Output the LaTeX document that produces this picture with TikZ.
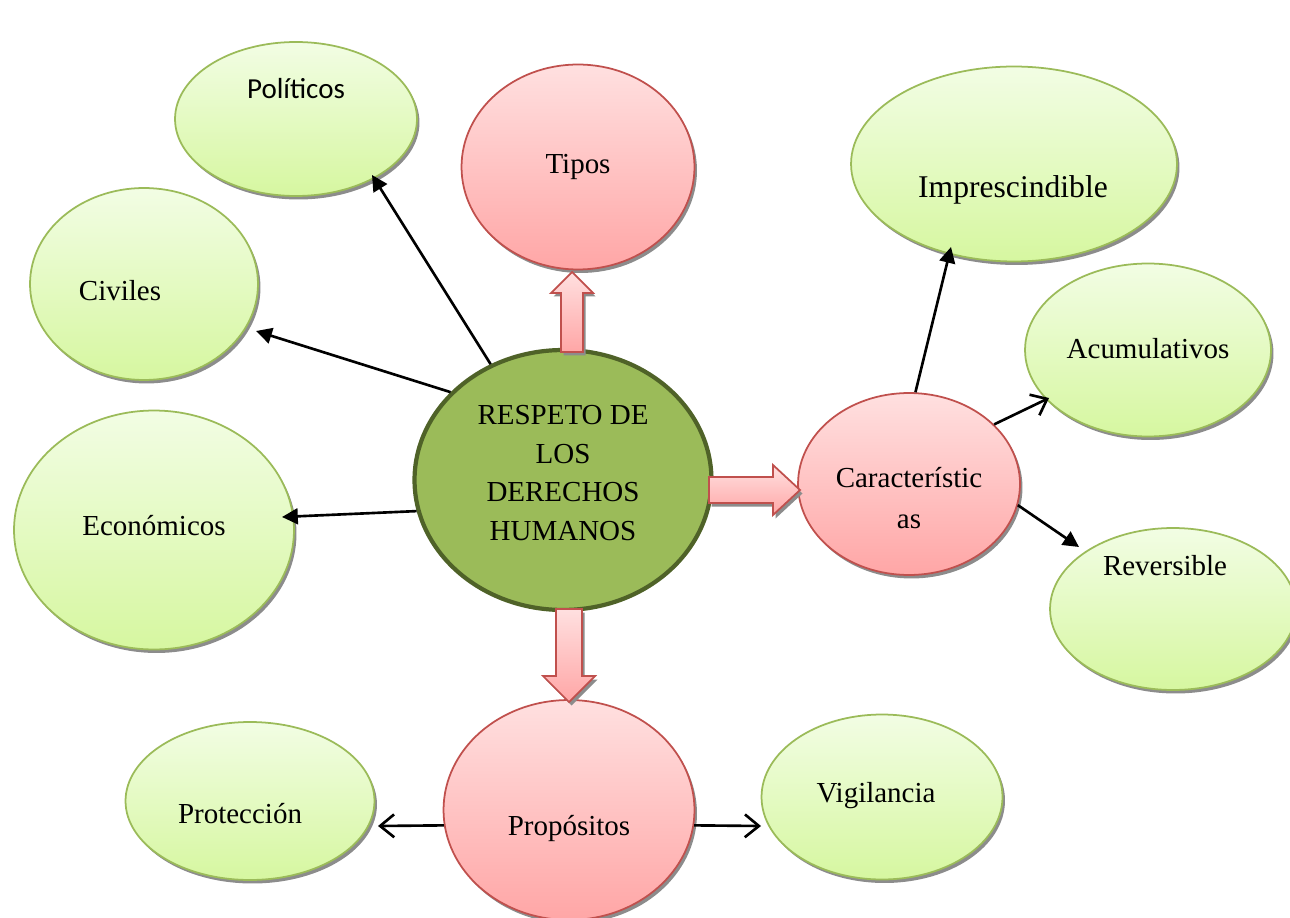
\documentclass[tikz,border=0pt]{standalone}
\usepackage{fontspec}
\setmainfont{Liberation Serif}
\newfontfamily\calib{Carlito}
\usetikzlibrary{shapes.geometric,shadows,arrows.meta,calc}
\definecolor{pinkT}{RGB}{255,224,224}
\definecolor{pinkB}{RGB}{255,166,166}
\definecolor{pinkD}{RGB}{192,80,77}
\definecolor{grnT}{RGB}{242,253,228}
\definecolor{grnB}{RGB}{214,247,160}
\definecolor{grnD}{RGB}{155,187,89}
\definecolor{cenF}{RGB}{155,187,89}
\definecolor{cenD}{RGB}{79,98,40}
\definecolor{shad}{RGB}{140,140,140}
\tikzset{
  shd/.style={drop shadow={shadow xshift=0.05cm, shadow yshift=-0.07cm, fill=shad, opacity=1}},
  grn/.style={ellipse, inner sep=0pt, shd, draw=grnD, line width=1pt, top color=grnT, bottom color=grnB},
  pnk/.style={ellipse, inner sep=0pt, shd, draw=pinkD, line width=1pt, top color=pinkT, bottom color=pinkB},
  cen/.style={ellipse, inner sep=0pt, draw=cenD, line width=2.4pt, fill=cenF},
  lbl/.style={font=\fontsize{16.5}{22}\selectfont, align=center, inner sep=0pt},
  arr/.style={line width=1.5pt, -{Triangle[length=9pt,width=9pt]}},
  oarr/.style={line width=1.5pt, -{Straight Barb[length=8pt,width=13pt,line width=1.5pt]}},
  blk/.style={draw=pinkD, line width=1pt, top color=pinkT, bottom color=pinkB, shd, line join=miter}
}
\begin{document}
\begin{tikzpicture}[x=0.02cm,y=-0.02cm]
\useasboundingbox (0,0) rectangle (1290,918);
% ellipses
\node[grn, minimum width=4.84cm, minimum height=3.08cm] (pol) at (296,119) {};
\node[pnk, minimum width=4.66cm, minimum height=4.10cm] (tipos) at (578,167) {};
\node[grn, minimum width=4.56cm, minimum height=3.84cm] (civ) at (144,284) {};
\node[grn, minimum width=6.52cm, minimum height=3.90cm] (imp) at (1014,164) {};
\node[grn, minimum width=4.92cm, minimum height=3.46cm] (acu) at (1148,350) {};
\node[grn, minimum width=5.60cm, minimum height=4.78cm] (eco) at (154,530) {};
\node[grn, minimum width=4.92cm, minimum height=3.24cm] (rev) at (1173,609) {};
\node[pnk, minimum width=4.44cm, minimum height=3.64cm] (car) at (909,484) {};
\node[pnk, minimum width=5.02cm, minimum height=4.40cm] (prop) at (569,810) {};
\node[grn, minimum width=4.98cm, minimum height=3.16cm] (pro) at (250,801) {};
\node[grn, minimum width=4.82cm, minimum height=3.30cm] (vig) at (882,797) {};
\node[cen, minimum width=5.94cm, minimum height=5.20cm] (resp) at (563,480) {};
% labels
\node[lbl] (tpol) at (296,89) {\calib Políticos};
\node[lbl] (ttip) at (578,167) {Tipos};
\node[lbl] (tciv) at (120,291) {Civiles};
\node[lbl, font=\fontsize{18}{22}\selectfont] (timp) at (1013,190) {Imprescindible};
\node[lbl] (tacu) at (1148,349) {Acumulativos};
\node[lbl] (teco) at (154,526) {Económicos};
\node[lbl] (trev) at (1165,566) {Reversible};
\node[lbl] (tcar) at (909,498) {Característic\\[1pt]as};
\node[lbl] (tprop) at (569,828) {Propósitos};
\node[lbl] (tpro) at (240,814) {Protección};
\node[lbl] (tvig) at (876,796) {Vigilancia};
\node[lbl] (tresp) at (563,473) {RESPETO DE\\LOS\\DERECHOS\\HUMANOS};
% arrow tips
\coordinate (polE) at (372,175);
\coordinate (civE) at (256,331);
\coordinate (ecoE) at (282,517);
\coordinate (impE) at (951,247);
\coordinate (acuE) at (1049,398);
\coordinate (revE) at (1079,547);
\coordinate (proE) at (378,826);
\coordinate (vigE) at (761,826);
% line connectors
\draw[arr] (resp.122) -- (polE);
\draw[arr] (resp.142) -- (civE);
\draw[arr] (resp.-168) -- (ecoE);
\draw[arr] (car.86) -- (impE);
\draw[oarr] (car.35) -- (acuE);
\draw[arr] (car.-11) -- (revE);
\draw[oarr] (prop.187) -- (proE);
\draw[oarr] (prop.-7) -- (vigE);
% block arrows
\coordinate (ua) at (572,352);
\coordinate (ub) at (572,272);
\path[blk] ($(ua)+(-11,0)$) -- ($(ub)+(-11,21)$) -- ($(ub)+(-21,21)$) -- (ub) -- ($(ub)+(21,21)$) -- ($(ub)+(11,21)$) -- ($(ua)+(11,0)$) -- cycle;
\coordinate (ra) at (709,490);
\coordinate (rb) at (800,490);
\path[blk] ($(ra)+(0,-13)$) -- ($(rb)+(-27,-13)$) -- ($(rb)+(-27,-25)$) -- (rb) -- ($(rb)+(-27,25)$) -- ($(rb)+(-27,13)$) -- ($(ra)+(0,13)$) -- cycle;
\coordinate (da) at (569,609);
\coordinate (db) at (569,702);
\path[blk] ($(da)+(-13,0)$) -- ($(db)+(-13,-26)$) -- ($(db)+(-26,-26)$) -- (db) -- ($(db)+(26,-26)$) -- ($(db)+(13,-26)$) -- ($(da)+(13,0)$) -- cycle;
\end{tikzpicture}
\end{document}
